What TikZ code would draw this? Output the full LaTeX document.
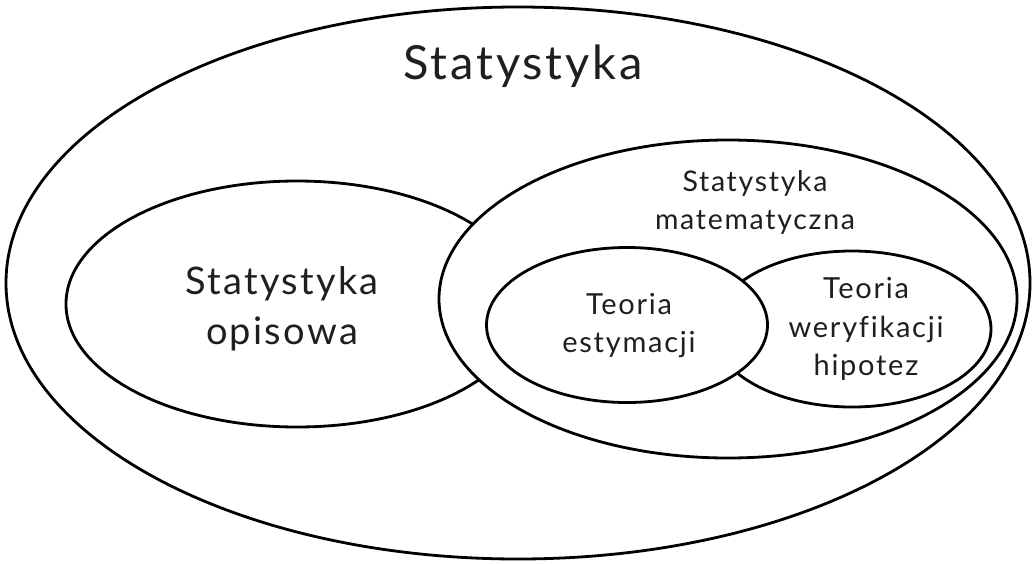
\documentclass[tikz,border=0pt]{standalone}
\usepackage{fontspec}
\setmainfont{Lato}[LetterSpace=6, Ligatures={NoCommon}]
\usetikzlibrary{shapes.geometric}
\tikzset{
  set/.style={ellipse, draw=black, line width=2.8pt, inner sep=0pt},
  filled/.style={set, fill=white},
  label/.style={align=center, inner sep=0pt, text=black!88},
}
\begin{document}
\begin{tikzpicture}[x=1pt, y=-1pt]
  \useasboundingbox (0,0) rectangle (1036,563);
  % outer set
  \node[set, minimum width=1024pt, minimum height=552pt] (all) at (518,283) {};
  % descriptive statistics
  \node[set, minimum width=462pt, minimum height=246pt] (desc) at (297,304) {};
  % mathematical statistics, drawn over the descriptive one
  \node[filled, minimum width=578pt, minimum height=318pt] (math) at (728,299) {};
  % hypothesis testing, then estimation on top of it
  \node[set, minimum width=278pt, minimum height=156pt] (test) at (852,329) {};
  \node[filled, minimum width=281pt, minimum height=155pt] (est) at (627,325) {};

  \node[label, font=\fontsize{47}{50}\selectfont] (tall) at (523,66) {Statystyka};
  \node[label, font=\fontsize{38}{50}\selectfont] (tdesc) at (282,309) {Statystyka\\opisowa};
  \node[label, font=\fontsize{28.5}{38}\selectfont] (tmath) at (755,202) {Statystyka\\matematyczna};
  \node[label, font=\fontsize{29}{38}\selectfont] (test1) at (629,326) {Teoria\\estymacji};
  \node[label, font=\fontsize{29}{38.5}\selectfont] (ttest) at (866,329) {Teoria\\weryfikacji\\hipotez};
\end{tikzpicture}
\end{document}
